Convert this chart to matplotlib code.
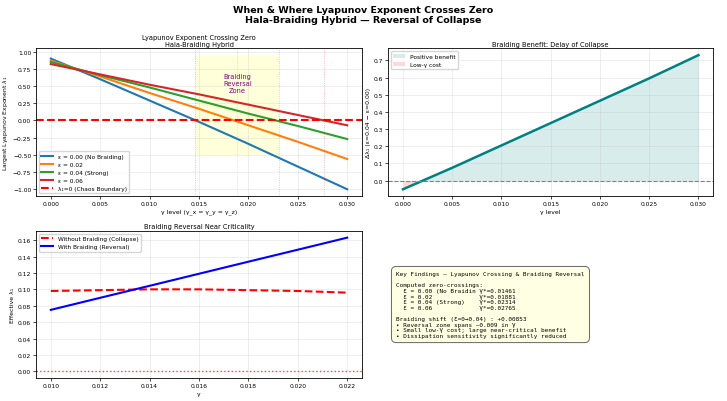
import numpy as np
import matplotlib
matplotlib.use("Agg")
import matplotlib.pyplot as plt

# gamma levels (top row) and largest Lyapunov exponent per braiding strength
gamma = [0.000, 0.005, 0.010, 0.015, 0.020, 0.025, 0.030]
lam_eps000 = [0.90, 0.60, 0.29, -0.02, -0.34, -0.67, -1.00]
lam_eps002 = [0.87, 0.64, 0.40, 0.17, -0.07, -0.31, -0.56]
lam_eps004 = [0.85, 0.66, 0.48, 0.29, 0.10, -0.08, -0.27]
lam_eps006 = [0.82, 0.67, 0.52, 0.38, 0.23, 0.08, -0.07]
eps_labels = ["ε = 0.00 (No Braiding)", "ε = 0.02", "ε = 0.04 (Strong)", "ε = 0.06"]
eps_colors = ["tab:blue", "tab:orange", "tab:green", "tab:red"]
gamma_star = [0.01461, 0.01881, 0.02314, 0.02765]

# braiding benefit  (eps=0.04 minus eps=0.00)
delta_lam = [-0.05, 0.075, 0.205, 0.335, 0.465, 0.595, 0.73]

# near criticality
gamma_crit = [0.010, 0.012, 0.014, 0.016, 0.018, 0.020, 0.022]
lam_without = [0.098, 0.099, 0.100, 0.100, 0.099, 0.098, 0.096]
lam_with = [0.075, 0.0897, 0.1043, 0.119, 0.1337, 0.1483, 0.163]

TICK = 4.3
LAB = 4.4
TIT = 4.8
LEG = 4.2

fig = plt.figure(figsize=(7.27, 4.02), dpi=100)
fig.suptitle("When & Where Lyapunov Exponent Crosses Zero\nHala-Braiding Hybrid — Reversal of Collapse",
             fontsize=6.8, fontweight="bold", y=0.985)

ax1 = fig.add_axes([0.0495, 0.51, 0.4485, 0.367])
ax2 = fig.add_axes([0.534, 0.51, 0.447, 0.367])
ax3 = fig.add_axes([0.0495, 0.057, 0.4485, 0.366])

# ---- top left
series = [lam_eps000, lam_eps002, lam_eps004, lam_eps006]
for lam, lab, c in zip(series, eps_labels, eps_colors):
    ax1.plot(gamma, lam, color=c, lw=1.5, label=lab)
ax1.axhline(0, color="red", ls="--", lw=1.5, label="λ₁=0 (Chaos Boundary)")
for gs, c in zip(gamma_star, eps_colors):
    ax1.axvline(gs, color=c, ls=":", lw=0.6, alpha=0.4)
ax1.fill_between([gamma_star[0], gamma_star[2]], -0.5, 0.95, color="yellow", alpha=0.15, lw=0)
ax1.text((gamma_star[0] + gamma_star[2]) / 2, 0.55, "Braiding\nReversal\nZone",
         ha="center", va="center", fontsize=4.8, color="purple")
ax1.set_title("Lyapunov Exponent Crossing Zero\nHala-Braiding Hybrid", fontsize=TIT, pad=2)
ax1.set_xlabel("γ level (γ_x = γ_y = γ_z)", fontsize=LAB, labelpad=2)
ax1.set_ylabel("Largest Lyapunov Exponent $\\lambda_1$", fontsize=LAB, labelpad=2)
ax1.legend(loc="lower left", fontsize=LEG, framealpha=0.8)
ax1.grid(True, alpha=0.3, lw=0.5)

# ---- top right
ax2.plot(gamma, delta_lam, color="teal", lw=1.8)
g = np.array(gamma)
d = np.array(delta_lam)
ax2.fill_between(g, 0, d, where=d >= 0, interpolate=True, color="teal", alpha=0.15, lw=0,
                 label="Positive benefit")
ax2.fill_between(g, 0, d, where=d < 0, interpolate=True, color="red", alpha=0.15, lw=0,
                 label="Low-γ cost")
ax2.axhline(0, color="gray", ls="--", lw=0.8)
ax2.set_title("Braiding Benefit: Delay of Collapse", fontsize=TIT, pad=2)
ax2.set_xlabel("γ level", fontsize=LAB, labelpad=2)
ax2.set_ylabel("Δλ₁ (ε=0.04 − ε=0.00)", fontsize=LAB, labelpad=2)
ax2.legend(loc="upper left", fontsize=LEG, framealpha=0.8)
ax2.grid(True, alpha=0.3, lw=0.5)

# ---- bottom left
ax3.plot(gamma_crit, lam_without, color="red", ls="--", lw=1.5, label="Without Braiding (Collapse)")
ax3.plot(gamma_crit, lam_with, color="blue", lw=1.5, label="With Braiding (Reversal)")
ax3.axhline(0, color="red", ls=":", lw=1.0, alpha=0.7)
ax3.set_title("Braiding Reversal Near Criticality", fontsize=TIT, pad=2)
ax3.set_xlabel("γ", fontsize=LAB, labelpad=2)
ax3.set_ylabel("Effective λ₁", fontsize=LAB, labelpad=2)
ax3.legend(loc="upper left", fontsize=LEG, framealpha=0.8)
ax3.grid(True, alpha=0.3, lw=0.5)

for ax in (ax1, ax2, ax3):
    ax.tick_params(labelsize=TICK, length=2, width=0.5, pad=1.5)
    for s in ax.spines.values():
        s.set_linewidth(0.6)

# ---- key findings box
lines = ["Key Findings — Lyapunov Crossing & Braiding Reversal", "", "Computed zero-crossings:"]
short = ["ε = 0.00 (No Braidin", "ε = 0.02", "ε = 0.04 (Strong)", "ε = 0.06"]
for lab, gs in zip(short, gamma_star):
    lines.append(f"  {lab:<20} γ*={gs:.5f}")
lines.append("")
lines.append(f"Braiding shift (ε=0→0.04) : +{gamma_star[2] - gamma_star[0]:.5f}")
lines.append("• Reversal zone spans ~0.009 in γ")
lines.append("• Small low-γ cost; large near-critical benefit")
lines.append("• Dissipation sensitivity significantly reduced")
fig.text(0.545, 0.24, "\n".join(lines), family="DejaVu Sans Mono", fontsize=4.3,
         va="center", ha="left", linespacing=1.15,
         bbox=dict(boxstyle="round,pad=0.8", facecolor="lightyellow", edgecolor="#555555",
                   linewidth=0.7, alpha=0.9))

fig.savefig("out.png", dpi=100)
